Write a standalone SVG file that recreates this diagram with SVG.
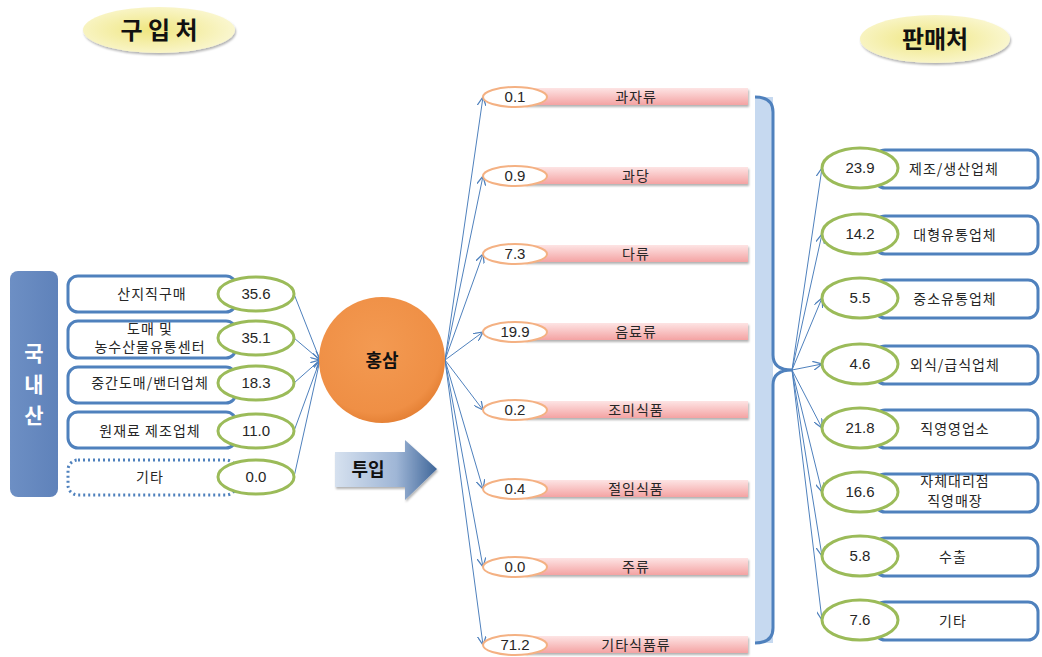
<svg xmlns="http://www.w3.org/2000/svg" width="1042" height="657" viewBox="0 0 1042 657">
<defs>
<style>
.kr{font-family:"Noto Sans CJK KR","Liberation Sans",sans-serif;fill:#262626;}
.num{font-family:"Liberation Sans","Noto Sans CJK KR",sans-serif;font-size:15px;fill:#262626;}
.lbl{font-size:14px;letter-spacing:1px;}
.box{fill:#fff;stroke:#4f81bd;stroke-width:3;}
.gel{fill:#fff;stroke:#9bbb59;stroke-width:3;}
.oel{fill:#fff;stroke:#f4b183;stroke-width:2;}
.bar{fill:url(#pink);filter:url(#sh);}
.con{stroke:#4f81bd;stroke-width:1;fill:none;marker-end:url(#arr);}
.title{font-family:"Noto Sans CJK KR","Liberation Sans",sans-serif;font-weight:bold;font-size:24px;fill:#111;}
.vt{font-family:"Noto Sans CJK KR",sans-serif;font-size:21px;font-weight:600;fill:#fff;}
</style>
<marker id="arr" viewBox="0 0 10 10" refX="10" refY="5" markerWidth="9" markerHeight="9" markerUnits="userSpaceOnUse" orient="auto">
<path d="M0,0 L10,5 L0,10" fill="none" stroke="#4f81bd" stroke-width="1.4"/>
</marker>
<linearGradient id="pink" x1="0" y1="0" x2="0" y2="1">
<stop offset="0" stop-color="#fde4e4"/>
<stop offset="1" stop-color="#f4a3a3"/>
</linearGradient>
<radialGradient id="yel" cx="0.45" cy="0.5" r="0.6">
<stop offset="0" stop-color="#efe680"/>
<stop offset="1" stop-color="#fbf8d6"/>
</radialGradient>
<radialGradient id="org" cx="0.45" cy="0.4" r="0.65">
<stop offset="0" stop-color="#f39a52"/>
<stop offset="0.8" stop-color="#ef8f45"/>
<stop offset="1" stop-color="#e07a2e"/>
</radialGradient>
<linearGradient id="arrg" x1="0" y1="0" x2="1" y2="0">
<stop offset="0" stop-color="#d6e1ef"/>
<stop offset="0.6" stop-color="#9fb6d6"/>
<stop offset="1" stop-color="#3f6699"/>
</linearGradient>
<linearGradient id="blue" x1="0" y1="0" x2="1" y2="0">
<stop offset="0" stop-color="#6d8fc4"/>
<stop offset="1" stop-color="#5f82ba"/>
</linearGradient>
<filter id="sh" x="-10%" y="-30%" width="120%" height="170%">
<feDropShadow dx="1" dy="2" stdDeviation="1.2" flood-color="#000" flood-opacity="0.3"/>
</filter>
</defs>

<g id="title-buy">
<ellipse cx="159" cy="30" rx="76" ry="23" fill="url(#yel)" filter="url(#sh)"/>
<text class="title" x="159" y="39" text-anchor="middle">구 입 처</text>
</g>
<g id="title-sell">
<ellipse cx="935" cy="39" rx="75" ry="24" fill="url(#yel)" filter="url(#sh)"/>
<text class="title" x="935" y="48" text-anchor="middle">판매처</text>
</g>

<g id="domestic">
<rect x="10" y="271" width="48" height="226" rx="8" fill="url(#blue)"/>
<text class="vt" x="34" y="361" text-anchor="middle">국</text>
<text class="vt" x="34" y="392" text-anchor="middle">내</text>
<text class="vt" x="34" y="423" text-anchor="middle">산</text>
</g>

<g id="connectors">
<line class="con" x1="294" y1="294" x2="320" y2="360"/>
<line class="con" x1="294" y1="338" x2="320" y2="360"/>
<line class="con" x1="294" y1="383" x2="320" y2="360"/>
<line class="con" x1="294" y1="431" x2="320" y2="360"/>
<line class="con" x1="294" y1="477" x2="320" y2="360"/>
<line class="con" x1="445" y1="360" x2="483" y2="97"/>
<line class="con" x1="445" y1="360" x2="483" y2="176"/>
<line class="con" x1="445" y1="360" x2="483" y2="254"/>
<line class="con" x1="445" y1="360" x2="483" y2="332"/>
<line class="con" x1="445" y1="360" x2="483" y2="410"/>
<line class="con" x1="445" y1="360" x2="483" y2="489"/>
<line class="con" x1="445" y1="360" x2="483" y2="567"/>
<line class="con" x1="445" y1="360" x2="483" y2="645"/>
<line class="con" x1="792" y1="370" x2="822" y2="168"/>
<line class="con" x1="792" y1="370" x2="822" y2="234"/>
<line class="con" x1="792" y1="370" x2="822" y2="298"/>
<line class="con" x1="792" y1="370" x2="822" y2="364"/>
<line class="con" x1="792" y1="370" x2="822" y2="428"/>
<line class="con" x1="792" y1="370" x2="822" y2="492"/>
<line class="con" x1="792" y1="370" x2="822" y2="556"/>
<line class="con" x1="792" y1="370" x2="822" y2="620"/>
</g>

<g id="src1">
<rect class="box" x="68" y="276" width="168" height="36" rx="10"/>
<text class="kr lbl" x="152" y="299" text-anchor="middle">산지직구매</text>
<ellipse class="gel" cx="256" cy="294" rx="38" ry="17"/>
<text class="num" x="256" y="299" text-anchor="middle">35.6</text>
</g>
<g id="src2">
<rect class="box" x="68" y="321" width="168" height="37" rx="10"/>
<text class="kr lbl" x="150" y="334" text-anchor="middle">도매 및</text>
<text class="kr lbl" x="150" y="352" text-anchor="middle">농수산물유통센터</text>
<ellipse class="gel" cx="256" cy="338" rx="38" ry="17"/>
<text class="num" x="256" y="343" text-anchor="middle">35.1</text>
</g>
<g id="src3">
<rect class="box" x="68" y="367" width="168" height="36" rx="10"/>
<text class="kr lbl" x="150" y="388" text-anchor="middle">중간도매/밴더업체</text>
<ellipse class="gel" cx="256" cy="383" rx="38" ry="17"/>
<text class="num" x="256" y="388" text-anchor="middle">18.3</text>
</g>
<g id="src4">
<rect class="box" x="68" y="412" width="168" height="36" rx="10"/>
<text class="kr lbl" x="150" y="436" text-anchor="middle">원재료 제조업체</text>
<ellipse class="gel" cx="256" cy="431" rx="38" ry="17"/>
<text class="num" x="256" y="436" text-anchor="middle">11.0</text>
</g>
<g id="src5">
<rect x="68" y="460" width="168" height="35" rx="10" fill="#fff" stroke="#4f81bd" stroke-width="3" stroke-dasharray="2 3"/>
<text class="kr lbl" x="150" y="482" text-anchor="middle">기타</text>
<ellipse class="gel" cx="256" cy="477" rx="38" ry="17"/>
<text class="num" x="256" y="482" text-anchor="middle">0.0</text>
</g>

<g id="hongsam">
<circle cx="382" cy="360" r="63" fill="url(#org)"/>
<text x="382" y="367" text-anchor="middle" font-family="Noto Sans CJK KR,sans-serif" font-size="18" font-weight="bold" fill="#111">홍삼</text>
</g>

<g id="input-arrow">
<path d="M335,452 L405,452 L405,440 L437,469 L405,500 L405,487 L335,487 Z" fill="url(#arrg)" filter="url(#sh)"/>
<text x="368" y="476" text-anchor="middle" font-family="Noto Sans CJK KR,sans-serif" font-size="18" font-weight="bold" fill="#111">투입</text>
</g>

<g id="prod1"><rect class="bar" x="525" y="88" width="223" height="17"/><ellipse class="oel" cx="515" cy="97" rx="32" ry="10"/><text class="num" x="515" y="102" text-anchor="middle">0.1</text><text class="kr lbl" x="636" y="102" text-anchor="middle">과자류</text></g>
<g id="prod2"><rect class="bar" x="525" y="167" width="223" height="17"/><ellipse class="oel" cx="515" cy="176" rx="32" ry="10"/><text class="num" x="515" y="181" text-anchor="middle">0.9</text><text class="kr lbl" x="636" y="181" text-anchor="middle">과당</text></g>
<g id="prod3"><rect class="bar" x="525" y="245" width="223" height="17"/><ellipse class="oel" cx="515" cy="254" rx="32" ry="10"/><text class="num" x="515" y="259" text-anchor="middle">7.3</text><text class="kr lbl" x="636" y="259" text-anchor="middle">다류</text></g>
<g id="prod4"><rect class="bar" x="525" y="323" width="223" height="17"/><ellipse class="oel" cx="515" cy="332" rx="32" ry="10"/><text class="num" x="515" y="337" text-anchor="middle">19.9</text><text class="kr lbl" x="636" y="337" text-anchor="middle">음료류</text></g>
<g id="prod5"><rect class="bar" x="525" y="401" width="223" height="17"/><ellipse class="oel" cx="515" cy="410" rx="32" ry="10"/><text class="num" x="515" y="415" text-anchor="middle">0.2</text><text class="kr lbl" x="636" y="415" text-anchor="middle">조미식품</text></g>
<g id="prod6"><rect class="bar" x="525" y="480" width="223" height="17"/><ellipse class="oel" cx="515" cy="489" rx="32" ry="10"/><text class="num" x="515" y="494" text-anchor="middle">0.4</text><text class="kr lbl" x="636" y="494" text-anchor="middle">절임식품</text></g>
<g id="prod7"><rect class="bar" x="525" y="558" width="223" height="17"/><ellipse class="oel" cx="515" cy="567" rx="32" ry="10"/><text class="num" x="515" y="572" text-anchor="middle">0.0</text><text class="kr lbl" x="636" y="572" text-anchor="middle">주류</text></g>
<g id="prod8"><rect class="bar" x="525" y="636" width="223" height="17"/><ellipse class="oel" cx="515" cy="645" rx="32" ry="10"/><text class="num" x="515" y="650" text-anchor="middle">71.2</text><text class="kr lbl" x="636" y="650" text-anchor="middle">기타식품류</text></g>

<g id="brace">
<rect x="755" y="97" width="18" height="546" fill="#c6d9f0"/>
<path d="M755,97 Q773,97 773,112 L773,355 Q773,370 792,370 Q773,370 773,385 L773,628 Q773,643 755,643" fill="none" stroke="#4f81bd" stroke-width="3"/>
</g>

<g id="dst1"><rect class="box" x="875" y="150" width="163" height="38" rx="10"/><ellipse class="gel" cx="860" cy="168" rx="38" ry="20"/><text class="num" x="860" y="173" text-anchor="middle">23.9</text><text class="kr lbl" x="954" y="174" text-anchor="middle">제조/생산업체</text></g>
<g id="dst2"><rect class="box" x="875" y="216" width="163" height="38" rx="10"/><ellipse class="gel" cx="860" cy="234" rx="38" ry="20"/><text class="num" x="860" y="239" text-anchor="middle">14.2</text><text class="kr lbl" x="955" y="240" text-anchor="middle">대형유통업체</text></g>
<g id="dst3"><rect class="box" x="875" y="280" width="163" height="38" rx="10"/><ellipse class="gel" cx="860" cy="298" rx="38" ry="20"/><text class="num" x="860" y="303" text-anchor="middle">5.5</text><text class="kr lbl" x="955" y="304" text-anchor="middle">중소유통업체</text></g>
<g id="dst4"><rect class="box" x="875" y="346" width="163" height="38" rx="10"/><ellipse class="gel" cx="860" cy="364" rx="38" ry="20"/><text class="num" x="860" y="369" text-anchor="middle">4.6</text><text class="kr lbl" x="955" y="370" text-anchor="middle">외식/급식업체</text></g>
<g id="dst5"><rect class="box" x="875" y="410" width="163" height="38" rx="10"/><ellipse class="gel" cx="860" cy="428" rx="38" ry="20"/><text class="num" x="860" y="433" text-anchor="middle">21.8</text><text class="kr lbl" x="955" y="434" text-anchor="middle">직영영업소</text></g>
<g id="dst6"><rect class="box" x="875" y="474" width="163" height="38" rx="10"/><ellipse class="gel" cx="860" cy="492" rx="38" ry="20"/><text class="num" x="860" y="497" text-anchor="middle">16.6</text><text class="kr lbl" x="955" y="486" text-anchor="middle">자체대리점</text><text class="kr lbl" x="955" y="506" text-anchor="middle">직영매장</text></g>
<g id="dst7"><rect class="box" x="875" y="538" width="163" height="38" rx="10"/><ellipse class="gel" cx="860" cy="556" rx="38" ry="20"/><text class="num" x="860" y="561" text-anchor="middle">5.8</text><text class="kr lbl" x="953" y="562" text-anchor="middle">수출</text></g>
<g id="dst8"><rect class="box" x="875" y="602" width="163" height="38" rx="10"/><ellipse class="gel" cx="860" cy="620" rx="38" ry="20"/><text class="num" x="860" y="625" text-anchor="middle">7.6</text><text class="kr lbl" x="953" y="626" text-anchor="middle">기타</text></g>
</svg>
